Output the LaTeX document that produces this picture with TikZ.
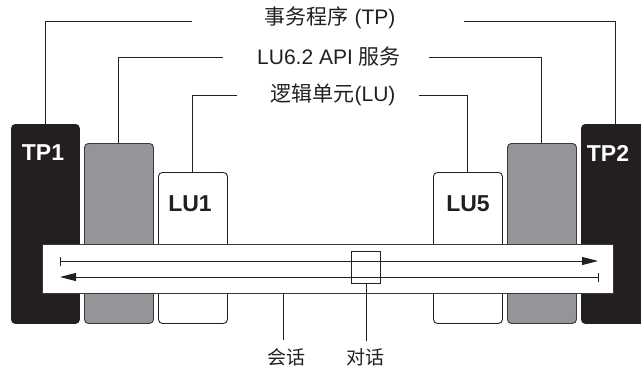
\documentclass[tikz,border=0pt]{standalone}
\usepackage{fontspec}
\setmainfont{Liberation Sans}
\newfontfamily\cjk{Noto Sans CJK SC}
\usetikzlibrary{arrows.meta}
\definecolor{ink}{HTML}{231F20}
\definecolor{midgray}{HTML}{939598}
\definecolor{edgegray}{HTML}{3A3A3C}
\begin{document}
\begin{tikzpicture}[x=1pt,y=-1pt,
  boxstyle/.style={rounded corners=4pt, anchor=north west, inner sep=0pt, line width=0.9pt},
  tpbox/.style={boxstyle, fill=ink, draw=ink, minimum width=68pt, minimum height=199pt},
  apibox/.style={boxstyle, fill=midgray, draw=edgegray, minimum width=69pt, minimum height=180pt},
  lubox/.style={boxstyle, fill=white, draw=ink, minimum width=69pt, minimum height=151pt},
  boxlabel/.style={font=\fontsize{23}{26}\selectfont\bfseries, inner sep=0pt},
  caption/.style={font=\fontsize{21}{24}\selectfont, text=ink, inner sep=0pt},
  smallcap/.style={font=\fontsize{19}{22}\selectfont, text=ink, inner sep=0pt},
  leader/.style={draw=ink, line width=1pt},
  flow/.style={draw=ink, line width=1pt}
]
\useasboundingbox (0,0) rectangle (641,370);
\begin{scope}
\clip (0,0) rectangle (641,370);
% boxes
\node[tpbox]  (tp1)  at (11,124) {};
\node[apibox] (api1) at (84,143) {};
\node[lubox]  (lu1)  at (158,172) {};
\node[lubox]  (lu5)  at (433,172) {};
\node[apibox] (api2) at (507,143) {};
\node[tpbox]  (tp2)  at (581,124) {};
\end{scope}
\node[boxlabel, text=white] (tp1t) at (43,153) {TP1};
\node[boxlabel, text=white] (tp2t) at (608,153) {TP2};
\node[boxlabel, text=ink] (lu1t) at (190,204) {LU1};
\node[boxlabel, text=ink] (lu5t) at (468,204) {LU5};
% session bar
\node[draw=edgegray, fill=white, line width=0.8pt, anchor=north west, inner sep=0pt,
      minimum width=571pt, minimum height=49pt] (bar) at (42,244) {};
\coordinate (u1) at (60,261);
\coordinate (u2) at (598,261);
\coordinate (l1) at (60,277);
\coordinate (l2) at (598,277);
\draw[flow, -{Triangle[length=16pt,width=8pt]}] (u1) -- (u2);
\draw[flow, {Triangle[length=16pt,width=8pt]}-] (l1) -- (l2);
\draw[ink, line width=1pt] ([yshift=-4.5pt]u1) -- ([yshift=4.5pt]u1);
\draw[ink, line width=1pt] ([yshift=-4.5pt]l2) -- ([yshift=4.5pt]l2);
% dialog box
\node[draw=ink, line width=1pt, anchor=north west, inner sep=0pt,
      minimum width=29pt, minimum height=32pt] (dlg) at (351,251) {};
% captions
\node[caption] (ttp) at (330,18) {{\cjk 事务程序} (TP)};
\node[caption] (tapi) at (329,57) {LU6.2 API {\cjk 服务}};
\node[caption] (tlu) at (333,95) {{\cjk 逻辑单元}(LU)};
\node[smallcap] (tses) at (286,357) {\cjk 会话};
\node[smallcap] (tdlg) at (365,357) {\cjk 对话};
% leader ends
\coordinate (ttpL) at (192,21);
\coordinate (ttpR) at (464,21);
\coordinate (tapiL) at (223,57);
\coordinate (tapiR) at (429,57);
\coordinate (tluL) at (237,95);
\coordinate (tluR) at (419,95);
\coordinate (sesx) at (283,0);
\coordinate (sesend) at (283,340);
\draw[leader] (tp1.north) |- (ttpL);
\draw[leader] (tp2.north) |- (ttpR);
\draw[leader] (api1.north) |- (tapiL);
\draw[leader] (api2.north) |- (tapiR);
\draw[leader] (lu1.north) |- (tluL);
\draw[leader] (lu5.north) |- (tluR);
\draw[leader] (bar.south -| sesx) -- (sesend);
\draw[leader] (dlg.south) -- ++(0,57);
\end{tikzpicture}
\end{document}
